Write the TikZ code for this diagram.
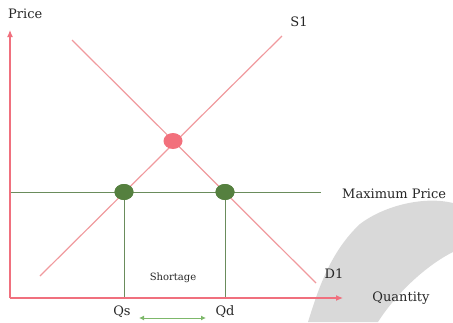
\documentclass[tikz,border=0pt]{standalone}
\usepackage{fontspec}
\setmainfont{DejaVu Serif}
\usetikzlibrary{arrows.meta,shapes.geometric}
\definecolor{curve}{HTML}{F09A9E}
\definecolor{axis}{HTML}{F0707E}
\definecolor{gline}{HTML}{6A8C5C}
\definecolor{gdot}{HTML}{55803F}
\definecolor{rdot}{HTML}{F2707C}
\definecolor{blob}{HTML}{D9D9D9}
\definecolor{txt}{HTML}{262626}
\definecolor{garrow}{HTML}{7DB86A}
\begin{document}
\begin{tikzpicture}[x=1pt,y=-1pt,
  lbl/.style={font=\fontsize{13}{14}\selectfont, text=txt, inner sep=0pt},
  smalllbl/.style={font=\fontsize{10}{11}\selectfont, text=txt, inner sep=0pt},
  curveline/.style={draw=curve, line width=1.2pt},
  axisline/.style={draw=axis, line width=1.1pt, -{Latex[length=7pt,width=6pt]}},
  pline/.style={draw=gline, line width=1pt},
  gdotst/.style={ellipse, fill=gdot, minimum width=19pt, minimum height=16pt, inner sep=0pt},
  rdotst/.style={ellipse, fill=rdot, minimum width=19pt, minimum height=16pt, inner sep=0pt}]
\useasboundingbox (0,0) rectangle (453,322);
% background blob
\fill[blob] (308,322) .. controls (318,290) and (330,252) .. (360,224)
  .. controls (385,205) and (425,196) .. (453,203)
  -- (453,252) .. controls (425,266) and (395,295) .. (378,322) -- cycle;
% coordinates
\coordinate (O) at (10,298);
\coordinate (Ytop) at (10,30);
\coordinate (Xend) at (343,298);
\coordinate (S1a) at (40,276);
\coordinate (S1b) at (282,36);
\coordinate (D1a) at (72,40);
\coordinate (D1b) at (316,283);
\coordinate (MPa) at (10,192);
\coordinate (MPb) at (321,192);
% lines
\draw[pline] (MPa) -- (MPb);
\draw[curveline] (S1a) -- (S1b);
\draw[curveline] (D1a) -- (D1b);
\coordinate (Qsb) at (124,298);
\coordinate (Qdb) at (225,298);
% dots
\node[rdotst] (E) at (173,141) {};
\node[gdotst] (Ps) at (124,192) {};
\node[gdotst] (Pd) at (225,192) {};
\draw[pline] (Ps.center) -- (Qsb);
\draw[pline] (Pd.center) -- (Qdb);
\node[gdotst] at (Ps.center) {};
\node[gdotst] at (Pd.center) {};
% axes
\draw[axisline] (O) -- (Ytop);
\draw[axisline] (O) -- (Xend);
% labels
\node[lbl, anchor=west] (price) at (8,14) {Price};
\node[lbl] (s1) at (299,22) {S1};
\node[lbl] (d1) at (334,274) {D1};
\node[lbl, anchor=west] (mp) at (342,194) {Maximum Price};
\node[lbl] (qty) at (401,298) {Quantity};
\node[smalllbl] (short) at (173,278) {Shortage};
\node[lbl] (qs) at (122,312) {Qs};
\node[lbl] (qd) at (225,312) {Qd};
\coordinate (arL) at (139,318);
\coordinate (arR) at (206,318);
\draw[draw=garrow, line width=1pt, {Latex[length=5pt,width=5pt]}-{Latex[length=5pt,width=5pt]}] (arL) -- (arR);
\end{tikzpicture}
\end{document}
